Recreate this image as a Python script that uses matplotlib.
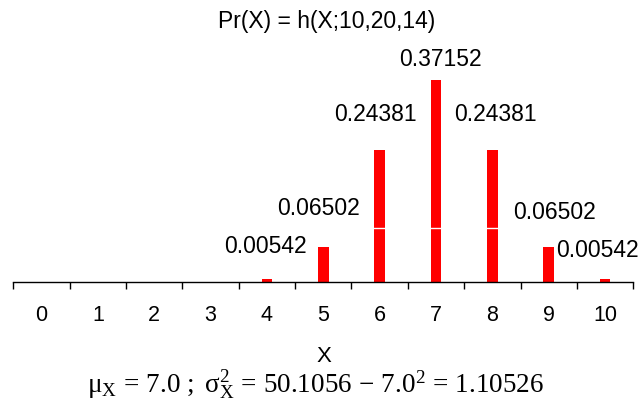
import matplotlib
matplotlib.use("Agg")
import matplotlib.pyplot as plt
from matplotlib.ticker import FixedLocator, NullFormatter, FixedFormatter

plt.rcParams['font.family'] = ['Liberation Sans', 'DejaVu Sans']
plt.rcParams['mathtext.fontset'] = 'custom'
plt.rcParams['mathtext.rm'] = 'Liberation Serif'
plt.rcParams['mathtext.it'] = 'Liberation Serif:italic'

# ---- data ----
x_values = [0, 1, 2, 3, 4, 5, 6, 7, 8, 9, 10]
probs = [0, 0, 0, 0, 0.00542, 0.06502, 0.24381, 0.37152, 0.24381, 0.06502, 0.00542]
tick_labels = ["0", "1", "2", "3", "4", "5", "6", "7", "8", "9", "10"]
title = "Pr(X) = h(X;10,20,14)"
xlabel = "X"
footer = r"$\mathrm{μ_X\,=\,7.0\ ;\ σ^2_X\,=\,50.1056\,-\,7.0^2\,=\,1.10526}$"

# label offsets (pixels: dx, baseline height above bar top) -- styling only
label_offsets = {4: (-1, 26), 5: (-5, 32), 6: (-4, 29), 7: (4.5, 14),
                 8: (3.3, 29), 9: (5.8, 28), 10: (-7.2, 22)}

W, H = 642, 403
fig = plt.figure(figsize=(W / 100, H / 100), dpi=100)
ax = fig.add_axes([13.3 / W, (H - 282.3) / H, (633.3 - 13.3) / W, 217.6 / H])

ax.bar(x_values, probs, width=0.19, color='#FF0000', zorder=2)
ax.axhline(0.1, color='white', lw=1, zorder=3)

ax.set_xlim(-0.5, 10.5)
ax.set_ylim(0, 0.4)
for s in ['top', 'right', 'left']:
    ax.spines[s].set_visible(False)
ax.spines['bottom'].set_linewidth(1.0)
ax.set_yticks([])

ax.xaxis.set_major_locator(FixedLocator([i - 0.5 for i in range(12)]))
ax.xaxis.set_major_formatter(NullFormatter())
ax.xaxis.set_minor_locator(FixedLocator(x_values))
ax.xaxis.set_minor_formatter(FixedFormatter(tick_labels))
ax.tick_params(axis='x', which='major', direction='out', length=5, width=1, color='black')
ax.tick_params(axis='x', which='minor', length=0, pad=16, labelsize=15.5)

for xv, p in zip(x_values, probs):
    if p > 0:
        dx, dy = label_offsets[xv]
        ax.annotate(f"{p:.5f}", xy=(xv, p), xytext=(dx * 0.72, dy * 0.72),
                    textcoords='offset points', ha='center', va='baseline',
                    fontsize=16.5, zorder=4)

fig.text(326.3 / W, (H - 28.3) / H, title, ha='center', va='baseline', fontsize=16.5)
fig.text(324 / W, (H - 361.7) / H, xlabel, ha='center', va='baseline', fontsize=16)
fig.text(316 / W, (H - 393) / H, footer, ha='center', va='baseline', fontsize=19.5)

fig.savefig("out.png", dpi=100)
